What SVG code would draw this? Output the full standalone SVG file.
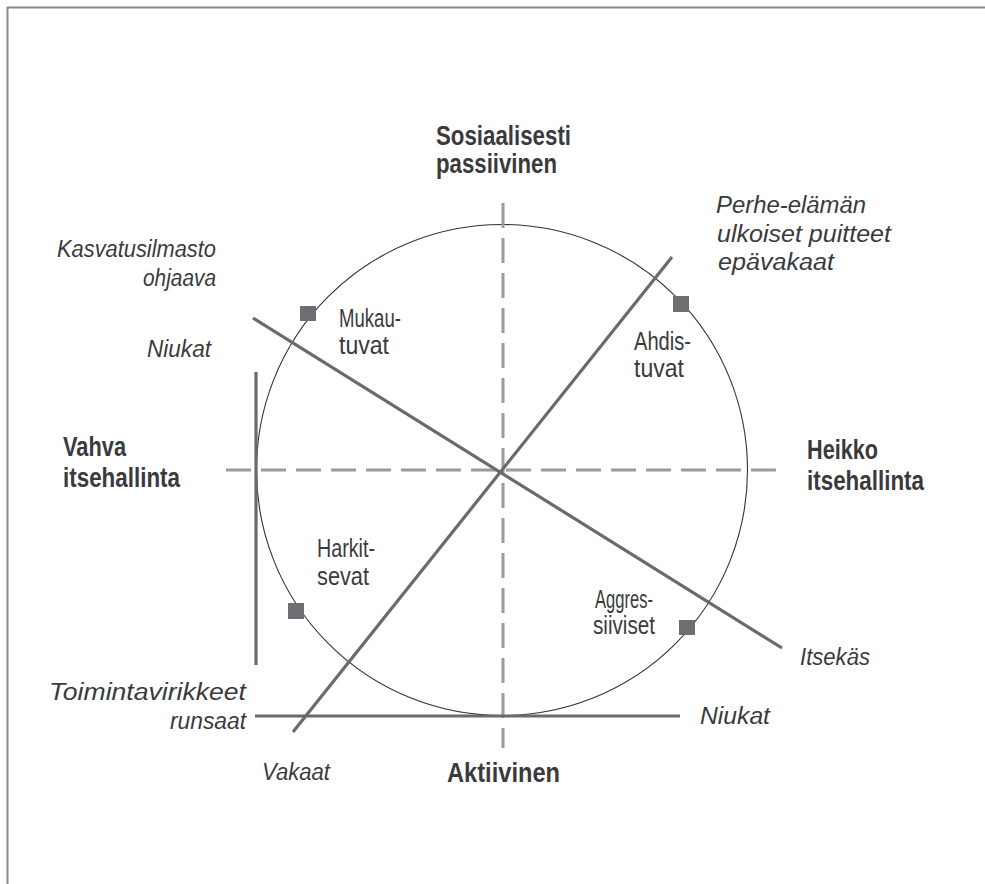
<svg xmlns="http://www.w3.org/2000/svg" width="985" height="884" viewBox="0 0 985 884">
<style>
text{font-family:"Liberation Sans",Arial,sans-serif;fill:#3a3a3c}
.b{font-weight:bold;font-size:27px}
.i{font-style:italic;font-size:23.5px}
.r{font-size:25px}
.e{text-anchor:end}
.dash{stroke:#9a9a9c;stroke-width:3;stroke-dasharray:25 10;fill:none}
.solid{stroke:#6a6a6c;stroke-width:3.2;fill:none}
.mk{fill:#6d6d72}
</style>
<rect width="985" height="884" fill="#fff"/>
<path d="M7.5 884 V7.5 H985" fill="none" stroke="#8a8a8a" stroke-width="2"/>
<g id="circle"><circle cx="502" cy="470" r="245.5" fill="none" stroke="#333" stroke-width="1.1"/></g>
<g id="connectors">
<line class="dash" x1="503" y1="203" x2="503" y2="748"/>
<line class="dash" x1="226" y1="470" x2="778" y2="470"/>
<line class="solid" x1="256" y1="372" x2="256" y2="665"/>
<line class="solid" x1="255" y1="716" x2="680" y2="716"/>
<line class="solid" x1="253" y1="318" x2="782" y2="648"/>
<line class="solid" x1="293" y1="732" x2="672" y2="257"/>
</g>
<g id="markers">
<rect class="mk" x="300" y="306" width="16" height="15"/>
<rect class="mk" x="673" y="296" width="16" height="16"/>
<rect class="mk" x="288" y="603" width="16" height="16"/>
<rect class="mk" x="679" y="620" width="16" height="15"/>
</g>
<g id="top-label"><text class="b" x="436" y="145" textLength="135" lengthAdjust="spacingAndGlyphs">Sosiaalisesti</text><text class="b" x="436" y="173" textLength="121" lengthAdjust="spacingAndGlyphs">passiivinen</text></g>
<g id="left-label"><text class="b" x="63" y="456" textLength="63" lengthAdjust="spacingAndGlyphs">Vahva</text><text class="b" x="63" y="487" textLength="117" lengthAdjust="spacingAndGlyphs">itsehallinta</text></g>
<g id="right-label"><text class="b" x="807" y="459" textLength="71" lengthAdjust="spacingAndGlyphs">Heikko</text><text class="b" x="807" y="490" textLength="117" lengthAdjust="spacingAndGlyphs">itsehallinta</text></g>
<g id="bottom-label"><text class="b" x="447" y="782" textLength="113" lengthAdjust="spacingAndGlyphs">Aktiivinen</text></g>
<g id="perhe"><text class="i" x="716" y="213" textLength="150" lengthAdjust="spacingAndGlyphs">Perhe-elämän</text><text class="i" x="717" y="242" textLength="174" lengthAdjust="spacingAndGlyphs">ulkoiset puitteet</text><text class="i" x="718" y="270" textLength="116" lengthAdjust="spacingAndGlyphs">epävakaat</text></g>
<g id="kasvatus"><text class="i e" x="216" y="257" textLength="159" lengthAdjust="spacingAndGlyphs">Kasvatusilmasto</text><text class="i e" x="216" y="286" textLength="73" lengthAdjust="spacingAndGlyphs">ohjaava</text></g>
<g id="niukat-left"><text class="i e" x="211" y="357" textLength="64" lengthAdjust="spacingAndGlyphs">Niukat</text></g>
<g id="itsekas"><text class="i" x="800" y="665" textLength="70" lengthAdjust="spacingAndGlyphs">Itsekäs</text></g>
<g id="toiminta"><text class="i e" x="246" y="700" textLength="197" lengthAdjust="spacingAndGlyphs">Toimintavirikkeet</text><text class="i e" x="246" y="729" textLength="76" lengthAdjust="spacingAndGlyphs">runsaat</text></g>
<g id="niukat-right"><text class="i" x="700" y="724" textLength="70" lengthAdjust="spacingAndGlyphs">Niukat</text></g>
<g id="vakaat"><text class="i" x="262" y="780" textLength="68" lengthAdjust="spacingAndGlyphs">Vakaat</text></g>
<g id="mukautuvat"><text class="r" x="339" y="327" textLength="62" lengthAdjust="spacingAndGlyphs">Mukau-</text><text class="r" x="339" y="354" textLength="50" lengthAdjust="spacingAndGlyphs">tuvat</text></g>
<g id="ahdistuvat"><text class="r" x="634" y="350" textLength="57" lengthAdjust="spacingAndGlyphs">Ahdis-</text><text class="r" x="634" y="377" textLength="50" lengthAdjust="spacingAndGlyphs">tuvat</text></g>
<g id="harkitsevat"><text class="r" x="317" y="557" textLength="58" lengthAdjust="spacingAndGlyphs">Harkit-</text><text class="r" x="317" y="585" textLength="52" lengthAdjust="spacingAndGlyphs">sevat</text></g>
<g id="aggressiiviset"><text class="r" x="595" y="608" textLength="58" lengthAdjust="spacingAndGlyphs">Aggres-</text><text class="r" x="593" y="634" textLength="62" lengthAdjust="spacingAndGlyphs">siiviset</text></g>
</svg>
